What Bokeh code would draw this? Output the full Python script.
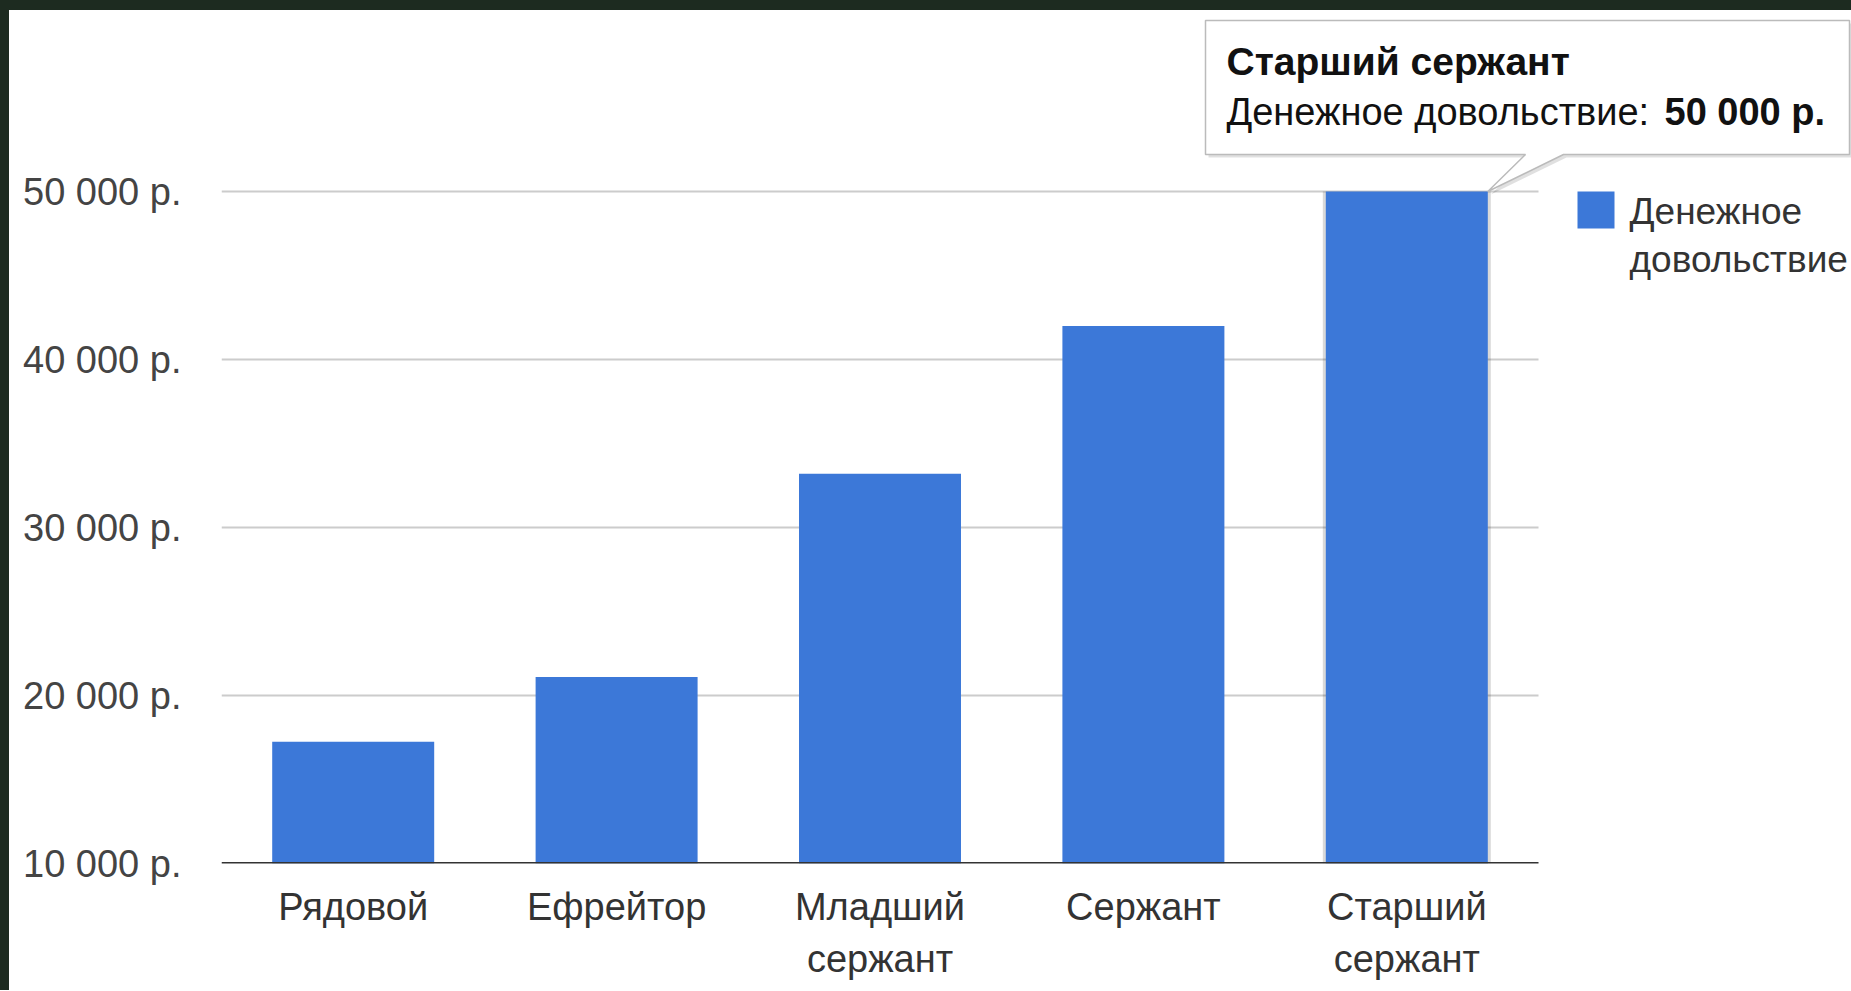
from bokeh.plotting import figure
from bokeh.models import Range1d, FixedTicker
from bokeh.core.properties import value
from bokeh.embed import file_html
from bokeh.resources import INLINE

# ---- data ----
categories = ["Рядовой", "Ефрейтор", "Младший сержант", "Сержант", "Старший сержант"]
pay = [17250, 21100, 33200, 42000, 50000]
series_name = "Денежное довольствие"
y_ticks = [10000, 20000, 30000, 40000, 50000]
highlight = 4  # bar with the tooltip

# ---- layout constants (page pixels) ----
OFF_X, OFF_Y = 9, 10        # dark frame of the slide around the chart
FIG_W, FIG_H = 1851, 990
FL, FB = 221, 863           # frame left / bottom on page
ML = FL - OFF_X
MB = OFF_Y + FIG_H - FB
XPX = 263.4                 # px per category
YPX = 168 / 10000           # px per unit of value
Y0 = y_ticks[0]
BAR_W = 0.615
FONT = "Liberation Sans"
FS = "38px"
BLUE = "#3c78d8"
DARK = "#1d2b20"

def dx(px):
    return (px - FL) / XPX

def dy(py):
    return Y0 + (FB - py) / YPX

x_range = Range1d(0, (FIG_W - ML) / XPX)
y_range = Range1d(Y0, Y0 + (FIG_H - MB) / YPX)

p = figure(width=FIG_W, height=FIG_H, x_range=x_range, y_range=y_range,
           output_backend="svg", toolbar_location=None,
           min_border_left=ML, min_border_right=0, min_border_top=0,
           min_border_bottom=MB)
p.styles = {"border-top": f"{OFF_Y}px solid {DARK}",
            "border-left": f"{OFF_X}px solid {DARK}"}
p.outline_line_color = None
p.background_fill_color = "white"
p.border_fill_color = "white"
p.xgrid.visible = False
p.ygrid.visible = False

# y axis
ya = p.yaxis[0]
ya.ticker = FixedTicker(ticks=y_ticks)
ya.major_label_overrides = {t: f"{t:,}".replace(",", " ") + " р." for t in y_ticks}
ya.axis_line_color = None
ya.major_tick_line_color = None
ya.minor_tick_line_color = None
ya.major_tick_out = 0
ya.major_label_standoff = 40
ya.major_label_text_font = FONT
ya.major_label_text_font_size = FS
ya.major_label_text_color = "#444444"

# x axis
xs = [i + 0.5 for i in range(len(categories))]
xa = p.xaxis[0]
xa.ticker = FixedTicker(ticks=xs)
xa.major_label_overrides = {x: c.replace(" ", "\n", 1) for x, c in zip(xs, categories)}
xa.axis_line_color = None
xa.major_tick_line_color = None
xa.minor_tick_line_color = None
xa.major_tick_out = 0
xa.major_label_standoff = 22
xa.major_label_text_font = FONT
xa.major_label_text_font_size = FS
xa.major_label_text_color = "#333333"
xa.major_label_text_line_height = 1.25

# gridlines over the category span
n = len(categories)
p.segment(x0=[0] * (len(y_ticks) - 1), x1=[n] * (len(y_ticks) - 1),
          y0=y_ticks[1:], y1=y_ticks[1:], line_color="#cccccc", line_width=2)

# hover shadow on highlighted bar
p.vbar(x=[xs[highlight]], top=[pay[highlight]], bottom=Y0, width=BAR_W + 6 / XPX,
       fill_color="#000000", fill_alpha=0.15, line_color=None)

# bars
p.vbar(x=xs, top=pay, bottom=Y0, width=BAR_W, fill_color=BLUE, line_color=None)

# baseline
p.segment(x0=[0], x1=[n], y0=[Y0], y1=[Y0], line_color="#333333", line_width=3)

# legend
p.scatter(x=[dx(1595.5)], y=[dy(209.5)], marker="square", size=37,
          fill_color=BLUE, line_color=None)
p.text(x=[dx(1629)] * 2, y=[dy(211), dy(259)], text=series_name.split(" "),
       text_font=value(FONT), text_font_size=value("37px"), text_color="#333333",
       text_baseline="alphabetic", text_align="left")

# tooltip
tip_x = xs[highlight] + BAR_W / 2
tip_y = pay[highlight]
L, R, T, B = dx(1205), dx(1849), dy(20), dy(154)
tl, tr = dx(1525), dx(1563)
px_x = [L, R, R, tr, tip_x, tl, L]
px_y = [T, T, B, B, tip_y, B, B]
p.patch(x=[v + 3 / XPX for v in px_x], y=[v - 3 / YPX for v in px_y],
        fill_color="#000000", fill_alpha=0.12, line_color=None)
p.patch(x=px_x, y=px_y, fill_color="white", line_color="#bbbbbb", line_width=1.5)
p.text(x=[dx(1226)], y=[dy(61)], text=[categories[highlight]],
       text_font=value(FONT), text_font_size=value("39px"), text_font_style="bold",
       text_color="#111111", text_baseline="alphabetic")
p.text(x=[dx(1226)], y=[dy(111)], text=[series_name + ":"],
       text_font=value(FONT), text_font_size=value("38px"),
       text_color="#111111", text_baseline="alphabetic")
p.text(x=[dx(1664)], y=[dy(111)],
       text=[f"{pay[highlight]:,}".replace(",", " ") + " р."],
       text_font=value(FONT), text_font_size=value("38px"), text_font_style="bold",
       text_color="#111111", text_baseline="alphabetic")

open("out.html", "w").write(file_html(p, INLINE))
